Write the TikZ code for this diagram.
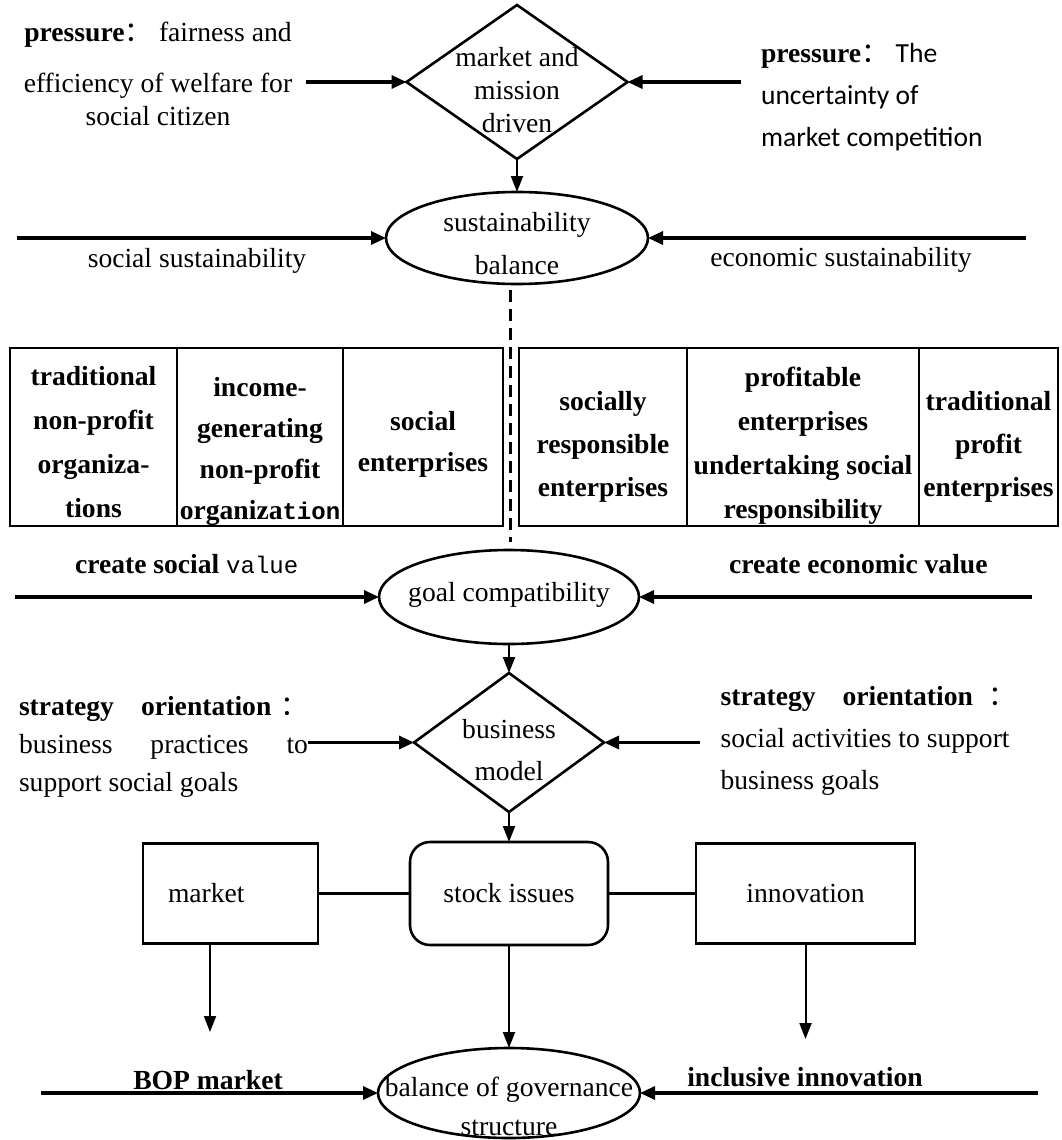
\documentclass[tikz,border=0pt]{standalone}
\usepackage{fontspec}
\setmainfont{Liberation Serif}
\newfontfamily\calibfont{Carlito}
\newfontfamily\codefont{Liberation Mono}
\newfontfamily\cjkfont{Noto Sans CJK SC}
\usetikzlibrary{shapes.geometric,arrows.meta}
\newcommand{\fcolon}{{\cjkfont ：}}

\begin{document}
\begin{tikzpicture}[x=1pt,y=-1pt,
  font=\fontsize{27.6}{33}\selectfont,
  every node/.style={inner sep=0pt, outer sep=0pt},
  txt/.style={font=\fontsize{27.6}{#1}\selectfont, align=center},
  txt/.default=42,
  celltxt/.style={font=\bfseries\fontsize{27.6}{#1}\selectfont, align=center},
  celltxt/.default=44,
  outline/.style={draw, line width=2.6pt},
  dia/.style={outline, diamond},
  ell/.style={outline, ellipse},
  cell/.style={outline, rectangle, minimum height=178pt},
  feed/.style={line width=3.2pt, -{Triangle[length=15pt,width=13pt]}},
  down/.style={line width=2pt, -{Triangle[length=16pt,width=12pt]}},
  link/.style={line width=2.6pt},
  divide/.style={line width=3pt, dash pattern=on 12pt off 7pt}]

\fill[white] (0,0) rectangle (1061,1140);
\useasboundingbox (0,0) rectangle (1061,1140);

% ---- drivers ----
\node[dia, minimum width=221pt, minimum height=154pt] (drive) at (517,82) {};
\node[txt=33, anchor=north] (drivetxt) at (517,47) {market and\\mission\\driven};

\node[txt=33, anchor=north] (presL) at (158,22)
  {\textbf{pressure}\fcolon{} fairness and\\[18pt]efficiency of welfare for\\social citizen};
\node[txt=42, align=left, anchor=north west] (presR) at (761,43)
  {\textbf{pressure}\fcolon{} {\calibfont The}\\{\calibfont uncertainty of}\\{\calibfont market competition}};

\coordinate (pl) at (306,82);
\coordinate (pr) at (741,82);
\draw[feed] (pl) -- (drive.west);
\draw[feed] (pr) -- (drive.east);

% ---- sustainability balance ----
\node[ell, minimum width=262pt, minimum height=92pt] (sust) at (517,238) {};
\node[txt=43, anchor=north] (susttxt) at (517,212) {sustainability\\balance};
\draw[down] (drive.south) -- (sust.north);

\coordinate (ssL) at (17,238);
\coordinate (ssR) at (1026,238);
\draw[feed] (ssL) -- (sust.west);
\draw[feed] (ssR) -- (sust.east);
\node[anchor=base] (ssLt) at (197,267) {social sustainability};
\node[anchor=base] (ssRt) at (841,266) {economic sustainability};

\coordinate (dashA) at (510,290);
\coordinate (dashB) at (510,542);
\draw[divide] (dashA) -- (dashB);

% ---- organisation spectrum ----
\node[cell, minimum width=167pt] (c1) at (93.5,437) {};
\node[cell, minimum width=166pt] (c2) at (260,437) {};
\node[cell, minimum width=160pt] (c3) at (423,437) {};
\node[cell, minimum width=168pt] (c4) at (603,437) {};
\node[cell, minimum width=232pt] (c5) at (803,437) {};
\node[cell, minimum width=139pt] (c6) at (988.5,437) {};

% labels sit a little below the middle of each cell (y grows downward here)
\node[celltxt] (c1t) at ([shift={(0,5)}]c1.center) {traditional\\non-profit\\organiza-\\tions};
\node[celltxt=41] (c2t) at ([shift={(0,14)}]c2.center)
  {income-\\generating\\non-profit\\organiza{\codefont\fontsize{24}{41}\selectfont tion}};
\node[celltxt=41] (c3t) at ([shift={(0,7)}]c3.center) {social\\enterprises};
\node[celltxt=43] (c4t) at ([shift={(0,10)}]c4.center) {socially\\responsible\\enterprises};
\node[celltxt] (c5t) at ([shift={(0,9)}]c5.center)
  {profitable\\enterprises\\undertaking social\\responsibility};
\node[celltxt=43] (c6t) at ([shift={(0,10)}]c6.center) {traditional\\profit\\enterprises};

% ---- goal compatibility ----
\node[anchor=base west] (csv) at (75,573)
  {\textbf{create social {\codefont\mdseries\fontsize{24}{33}\selectfont value}}};
\node[anchor=base west] (cev) at (729,573) {\textbf{create economic value}};

\node[ell, minimum width=260pt, minimum height=94pt] (goal) at (509,597) {};
\node[anchor=base] (goaltxt) at (509,601) {goal compatibility};
\coordinate (gvL) at (15,597);
\coordinate (gvR) at (1032,597);
\draw[feed] (gvL) -- (goal.west);
\draw[feed] (gvR) -- (goal.east);

% ---- business model ----
\node[dia, minimum width=190pt, minimum height=139pt] (bm) at (509,742.5) {};
\node[txt=42, anchor=north] (bmtxt) at (509,719) {business\\model};
\draw[down] (goal.south) -- (bm.north);

\node[txt=38, align=left, anchor=north west] (stratL) at (19,696)
  {\textbf{strategy}\hspace{27pt}\textbf{orientation}\hspace{9pt}\fcolon\\
   \makebox[289pt][s]{business\hfill practices\hfill to}\\
   support social goals};
\node[txt=42, align=left, anchor=north west] (stratR) at (720.6,686)
  {\textbf{strategy}\hspace{27pt}\textbf{orientation}\hspace{16pt}\fcolon\\
   social activities to support\\
   business goals};
\coordinate (soL) at (308,742.5);
\coordinate (soR) at (700,742.5);
\draw[feed] (soL) -- (bm.west);
\draw[feed] (soR) -- (bm.east);

% ---- governance ----
\node[outline, rounded corners=20pt, minimum width=198pt, minimum height=103pt] (stock) at (509,893.5) {stock issues};
\node[outline, minimum width=175pt, minimum height=100pt] (mkt) at (230.5,893.5) {\makebox[125pt][l]{market}};
\node[outline, minimum width=219pt, minimum height=100pt] (inno) at (805.5,893.5) {innovation};
\draw[link] (mkt.east) -- (stock.west);
\draw[link] (stock.east) -- (inno.west);
\draw[down] (bm.south) -- (stock.north);

\coordinate (mktEnd) at (210,1032);
\coordinate (innoEnd) at (805.5,1039);
\draw[down] (mkt.south -| mktEnd) -- (mktEnd);
\draw[down] (inno.south) -- (innoEnd);

\node[ell, minimum width=262pt, minimum height=90pt] (gov) at (509,1093) {};
\node[txt=39, anchor=north] (govtxt) at (509,1077) {balance of governance\\structure};
\draw[down] (stock.south) -- (gov.north);
\coordinate (bopL) at (41,1093);
\coordinate (incR) at (1038,1093);
\draw[feed] (bopL) -- (gov.west);
\draw[feed] (incR) -- (gov.east);
\node[anchor=base] (bop) at (208,1089) {\textbf{BOP market}};
\node[anchor=base] (incl) at (805,1086) {\textbf{inclusive innovation}};

\end{tikzpicture}
\end{document}
